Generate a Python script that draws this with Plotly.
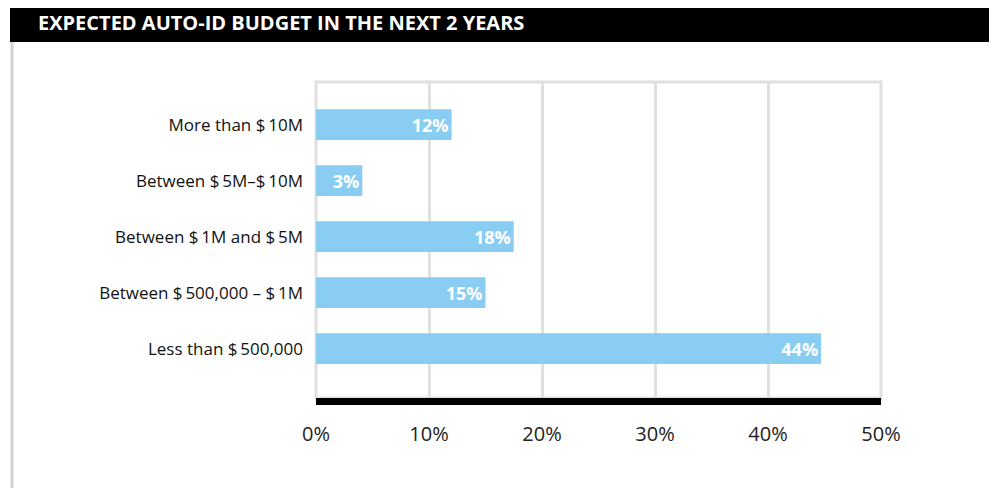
import plotly.graph_objects as go

# Data (bottom to top)
categories = ["Less than $\u2009500,000", "Between $\u2009500,000 \u2013 $\u20091M",
              "Between $\u20091M and $\u20095M", "Between $\u20095M\u2013$\u200910M",
              "More than $\u200910M"]
bar_values = [44.7, 15.0, 17.5, 4.1, 12.0]
value_labels = ["44%", "15%", "18%", "3%", "12%"]
x_ticks = [0, 10, 20, 30, 40, 50]
x_tick_labels = ["0%", "10%", "20%", "30%", "40%", "50%"]
title = "EXPECTED AUTO-ID BUDGET IN THE NEXT 2 YEARS"

OFF = 8  # page body margin
W, H = 997 - OFF, 488 - OFF
# plot area in screen pixels: x 316..881, y 82..398
L = 316 - OFF
R = W - (881 - OFF)
T = 82 - OFF
B = H - (398 - OFF)
pw, ph = W - L - R, H - T - B

def px(x):  # screen px -> paper
    return (x - OFF - L) / pw

def py(y):
    return 1 - (y - OFF - T) / ph

FONT = "Open Sans"

fig = go.Figure(go.Bar(
    y=list(range(len(categories))), x=bar_values, orientation="h",
    marker=dict(color="#89CDF2", line=dict(width=0)),
    width=0.55,
    text=value_labels, textposition="inside", insidetextanchor="end",
    textfont=dict(color="white", size=18, family=FONT, weight="bold"),
    constraintext="none", cliponaxis=False,
))

shapes = [
    # header bar
    dict(type="rect", xref="paper", yref="paper", x0=px(10), x1=px(1010), y0=py(42), y1=py(4),
         fillcolor="black", line=dict(width=0), layer="above"),
    # outer frame lines
    dict(type="line", xref="paper", yref="paper", x0=px(12), x1=px(12), y0=py(42), y1=py(500),
         line=dict(color="#d2d2d2", width=3)),
    dict(type="line", xref="paper", yref="paper", x0=px(994.5), x1=px(994.5), y0=py(42), y1=py(500),
         line=dict(color="#d2d2d2", width=3)),
    # plot box
    dict(type="rect", xref="paper", yref="paper", x0=0, x1=1, y0=0, y1=1,
         line=dict(color="#e0e0e0", width=3), layer="below"),
]

fig.update_layout(
    width=W, height=H,
    margin=dict(l=L, r=R, t=T, b=B),
    paper_bgcolor="white", plot_bgcolor="white",
    showlegend=False,
    shapes=shapes,
    annotations=[dict(text=title, xref="paper", yref="paper", x=px(36), y=py(23),
                      xanchor="left", yanchor="middle", showarrow=False,
                      font=dict(color="white", size=20, family=FONT, weight="bold"))],
    bargap=0.45,
)
fig.update_xaxes(range=[0, 50], tickvals=x_ticks, ticktext=x_tick_labels,
                 showgrid=True, gridcolor="#e0e0e0", gridwidth=3,
                 zeroline=False, showline=True, linecolor="black", linewidth=7,
                 ticks="", ticklabelstandoff=12,
                 tickfont=dict(size=20, family=FONT, color="#222"), fixedrange=True)
fig.update_yaxes(range=[-0.88, 4.76], tickvals=list(range(len(categories))), ticktext=categories,
                 showgrid=False, zeroline=False, showline=False, ticks="",
                 ticklabelstandoff=12,
                 tickfont=dict(size=17, family=FONT, color="#111"), fixedrange=True)

fig.write_html("out.html")
